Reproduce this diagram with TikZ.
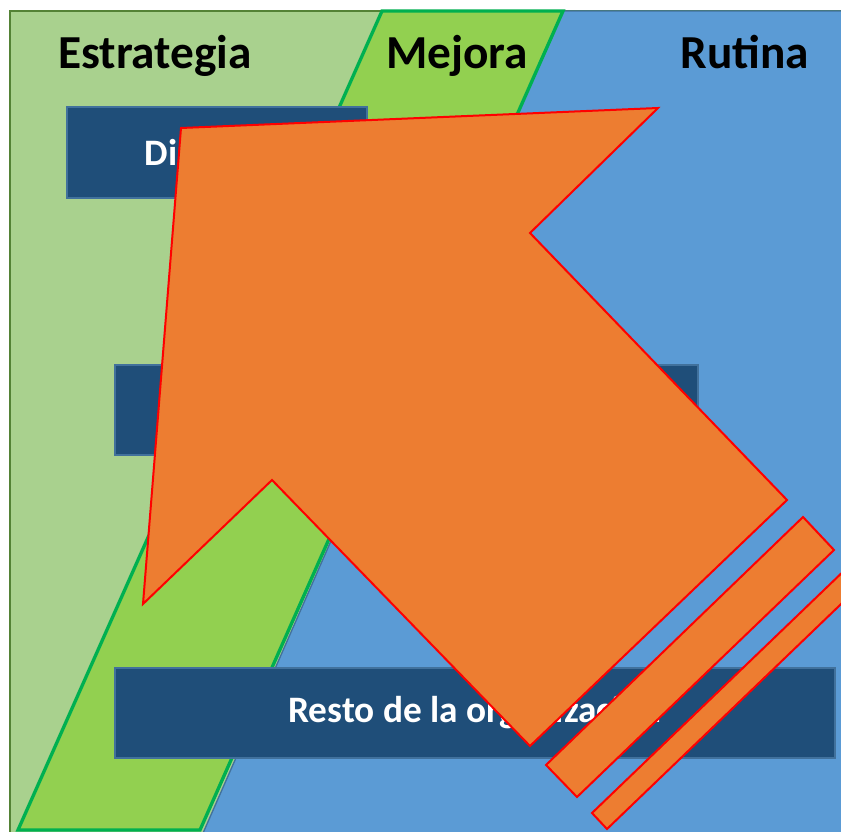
\documentclass[tikz,border=0pt]{standalone}
\usepackage{fontspec}
\setmainfont{Carlito}
\usepackage{xcolor}

\definecolor{estrgreen}{HTML}{A9D18E}
\definecolor{framegreen}{HTML}{548235}
\definecolor{mejgreen}{HTML}{92D050}
\definecolor{mejedge}{HTML}{00B050}
\definecolor{rutblue}{HTML}{5B9BD5}
\definecolor{boxblue}{HTML}{1F4E79}
\definecolor{boxedge}{HTML}{41719C}
\definecolor{arroworange}{HTML}{ED7D31}

\begin{document}
\begin{tikzpicture}[x=0.75pt, y=-0.75pt,
    zone/.style={font=\fontsize{35.5}{40}\selectfont\bfseries, text=black, anchor=base, inner sep=0pt},
    level/.style={rectangle, draw=boxedge, fill=boxblue, line width=1.5pt, text=white, inner sep=0pt, font=\fontsize{28}{32}\selectfont\bfseries},
    bolt/.style={draw=red, fill=arroworange, line width=1.5pt, line join=miter}
]
    \useasboundingbox (0,0) rectangle (841,831);
    \clip (0,0) rectangle (841,831);

    % Background zones
    \fill[white] (0,0) rectangle (841,831);
    \draw[fill=estrgreen, draw=framegreen, line width=1pt] (10,11) rectangle (850,840);
    \draw[fill=rutblue, draw=boxedge, line width=1pt] (563,11) -- (850,11) -- (850,840) -- (200,840) -- cycle;
    \draw[fill=mejgreen, draw=mejedge, line width=2.5pt, line join=miter] (382,11) -- (563,11) -- (200,830) -- (18,830) -- cycle;

    % Zone titles
    \node[zone] (estrategia) at (155,69) {Estrategia};
    \node[zone] (mejora) at (457,69) {Mejora};
    \node[zone] (rutina) at (745,69) {Rutina};

    % Levels
    \node[level, minimum width=225pt, minimum height=68.25pt] (direccion) at (217,152.5) {Dirección};
    \node[level, minimum width=437.25pt, minimum height=67.5pt] (mandos) at (406.5,410) {};
    \node[level, minimum width=540pt, minimum height=67.5pt] (resto) at (475,713) {Resto de la organización};

    % Big arrow
    \coordinate (tip) at (181,128);
    \coordinate (headtop) at (658,108);
    \coordinate (notchr) at (530,233);
    \coordinate (shaftr) at (787,500);
    \coordinate (shaftb) at (530,746);
    \coordinate (notchl) at (272,480);
    \coordinate (headleft) at (143,604);
    \draw[bolt] (tip) -- (headtop) -- (notchr) -- (shaftr) -- (shaftb) -- (notchl) -- (headleft) -- cycle;

    % Stripes
    \draw[bolt] (546,765) -- (803,517) -- (834,550) -- (577,797) -- cycle;
    \draw[bolt] (592,813) -- (850,565) -- (865,581) -- (607,829) -- cycle;
\end{tikzpicture}
\end{document}
